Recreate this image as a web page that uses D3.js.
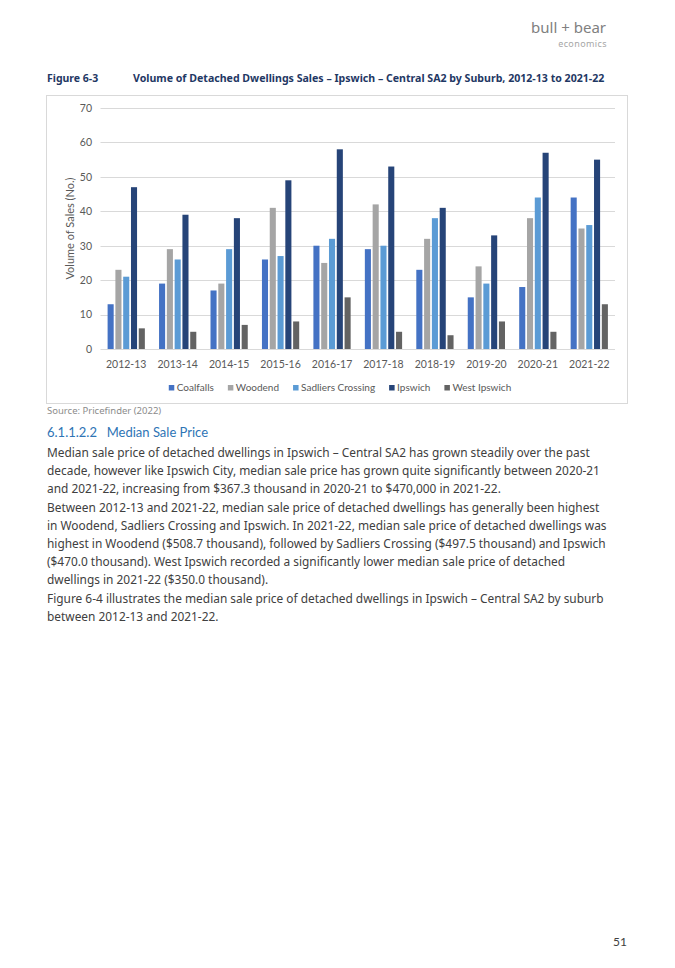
<!DOCTYPE html>
<html lang="en">
<head>
<meta charset="UTF-8">
<title>Volume of Detached Dwellings Sales - Ipswich Central SA2</title>
<style>
  body { margin: 0; background: #fff; }
  svg { display: block; }
</style>
</head>
<body>
<script src="https://d3js.org/d3.v7.min.js"></script>
<script>
// chart data
const years = ['2012-13', '2013-14', '2014-15', '2015-16', '2016-17',
               '2017-18', '2018-19', '2019-20', '2020-21', '2021-22'];
const suburbs = ['Coalfalls', 'Woodend', 'Sadliers Crossing', 'Ipswich', 'West Ipswich'];
const coalfalls = [13, 19, 17, 26, 30, 29, 23, 15, 18, 44];
const woodend   = [23, 29, 19, 41, 25, 42, 32, 24, 38, 35];
const sadliers  = [21, 26, 29, 27, 32, 30, 38, 19, 44, 36];
const ipswich   = [47, 39, 38, 49, 58, 53, 41, 33, 57, 55];
const westIpswich = [6, 5, 7, 8, 15, 5, 4, 8, 5, 13];
const yTicks = [0, 10, 20, 30, 40, 50, 60, 70];

const colors = ['#4472C4', '#A5A5A5', '#5B9BD5', '#264478', '#636363'];
const series = [coalfalls, woodend, sadliers, ipswich, westIpswich];

const table = years.map((y, i) => {
  const row = { year: y };
  suburbs.forEach((s, j) => row[s] = series[j][i]);
  return row;
});

const W = 675, H = 968;
const chartFont = 'Lato, "Open Sans", sans-serif';
const bodyFont = '"Noto Sans", "DejaVu Sans", sans-serif';

const svg = d3.select('body').append('svg')
  .attr('width', W).attr('height', H);
svg.append('rect').attr('width', W).attr('height', H).attr('fill', '#fff');

// logo
svg.append('text').attr('x', 606).attr('y', 33).attr('text-anchor', 'end')
  .style('font-family', bodyFont).style('font-size', '15px')
  .style('fill', '#808080').text('bull + bear');
svg.append('text').attr('x', 607).attr('y', 47).attr('text-anchor', 'end')
  .style('font-family', bodyFont).style('font-size', '9px')
  .style('fill', '#a6a6a6').style('letter-spacing', '0.4px').text('economics');

// figure title
svg.append('text').attr('x', 47).attr('y', 82)
  .style('font-family', bodyFont).style('font-size', '10.5px').style('font-weight', 'bold')
  .style('fill', '#1F3864').text('Figure 6-3');
svg.append('text').attr('x', 133).attr('y', 82)
  .style('font-family', bodyFont).style('font-size', '10.6px').style('font-weight', 'bold')
  .style('fill', '#1F3864')
  .text('Volume of Detached Dwellings Sales \u2013 Ipswich \u2013 Central SA2 by Suburb, 2012-13 to 2021-22');

// chart box
svg.append('rect').attr('x', 46.5).attr('y', 95.5).attr('width', 581).attr('height', 308)
  .attr('fill', '#fff').attr('stroke', '#d9d9d9').attr('stroke-width', 1);

const plot = { left: 100.5, right: 615, top: 108, bottom: 349 };

const x0 = d3.scaleBand().domain(years).range([plot.left, plot.right])
  .paddingInner(0.276).paddingOuter(0.138);
const x1 = d3.scaleBand().domain(suburbs).range([0, x0.bandwidth()]).paddingInner(0.22);
const y = d3.scaleLinear().domain([0, 70]).range([plot.bottom, plot.top]);

// gridlines
svg.append('g').selectAll('line').data(yTicks).join('line')
  .attr('x1', plot.left).attr('x2', plot.right)
  .attr('y1', d => Math.round(y(d)) + 0.5).attr('y2', d => Math.round(y(d)) + 0.5)
  .attr('stroke', '#d9d9d9').attr('stroke-width', 1);

// y axis labels
const yAxis = d3.axisLeft(y).tickValues(yTicks).tickSize(0).tickPadding(0);
svg.append('g').attr('transform', `translate(92,0)`).call(yAxis)
  .call(g => g.select('.domain').remove())
  .call(g => g.selectAll('text').style('font-family', chartFont)
    .style('font-size', '10.5px').style('fill', '#595959'));

// x axis labels
const xAxis = d3.axisBottom(x0).tickSize(0).tickPadding(0);
svg.append('g').attr('transform', `translate(0,361)`).call(xAxis)
  .call(g => g.select('.domain').remove())
  .call(g => g.selectAll('text').style('font-family', chartFont)
    .style('font-size', '10.5px').style('fill', '#595959'));

// y axis title
svg.append('text')
  .attr('transform', `translate(74,${(plot.top + plot.bottom) / 2}) rotate(-90)`)
  .attr('text-anchor', 'middle')
  .style('font-family', chartFont).style('font-size', '11px').style('fill', '#595959')
  .text('Volume of Sales (No.)');

// bars
svg.append('g').selectAll('g').data(table).join('g')
  .attr('transform', d => `translate(${x0(d.year)},0)`)
  .selectAll('rect')
  .data(d => suburbs.map((s, j) => ({ key: s, value: d[s], color: colors[j] })))
  .join('rect')
  .attr('x', d => x1(d.key))
  .attr('y', d => y(d.value))
  .attr('width', x1.bandwidth())
  .attr('height', d => y(0) - y(d.value))
  .attr('fill', d => d.color);

// legend
const legend = svg.append('g').attr('transform', 'translate(0,390)');
const items = legend.selectAll('g').data(suburbs).join('g');
items.append('rect').attr('width', 5.5).attr('height', 5.5).attr('y', -5)
  .attr('fill', (d, i) => colors[i]);
items.append('text').attr('x', 8).attr('y', 0.5)
  .style('font-family', chartFont).style('font-size', '10px').style('fill', '#595959')
  .text(d => d);
let widths = [];
items.each(function() { widths.push(this.getBBox().width); });
const gap = 14;
const total = d3.sum(widths) + gap * (widths.length - 1);
let cx = 340 - total / 2;
items.attr('transform', (d, i) => {
  const t = `translate(${cx},0)`;
  cx += widths[i] + gap;
  return t;
});

// source
svg.append('text').attr('x', 47).attr('y', 414)
  .style('font-family', bodyFont).style('font-size', '9.5px').style('fill', '#8c8c8c')
  .text('Source: Pricefinder (2022)');

// heading
svg.append('text').attr('x', 47).attr('y', 437)
  .style('font-family', chartFont).style('font-size', '13px').style('fill', '#2E74B5')
  .text('6.1.1.2.2\u2003Median Sale Price');

// body paragraphs
const paragraphs = [
  { y: 457, lines: [
    'Median sale price of detached dwellings in Ipswich \u2013 Central SA2 has grown steadily over the past',
    'decade, however like Ipswich City, median sale price has grown quite significantly between 2020-21',
    'and 2021-22, increasing from $367.3 thousand in 2020-21 to $470,000 in 2021-22.' ] },
  { y: 512, lines: [
    'Between 2012-13 and 2021-22, median sale price of detached dwellings has generally been highest',
    'in Woodend, Sadliers Crossing and Ipswich. In 2021-22, median sale price of detached dwellings was',
    'highest in Woodend ($508.7 thousand), followed by Sadliers Crossing ($497.5 thousand) and Ipswich',
    '($470.0 thousand). West Ipswich recorded a significantly lower median sale price of detached',
    'dwellings in 2021-22 ($350.0 thousand).' ] },
  { y: 603, lines: [
    'Figure 6-4 illustrates the median sale price of detached dwellings in Ipswich \u2013 Central SA2 by suburb',
    'between 2012-13 and 2021-22.' ] }
];
paragraphs.forEach(p => {
  const t = svg.append('text').attr('x', 47).attr('y', p.y)
    .style('font-family', bodyFont).style('font-size', '11.9px').style('fill', '#404040');
  p.lines.forEach((l, i) => {
    t.append('tspan').attr('x', 47).attr('dy', i === 0 ? 0 : 18).text(l);
  });
});

// page number
svg.append('text').attr('x', 627).attr('y', 946).attr('text-anchor', 'end')
  .style('font-family', chartFont).style('font-size', '12px').style('fill', '#404040')
  .text('51');
</script>
</body>
</html>
